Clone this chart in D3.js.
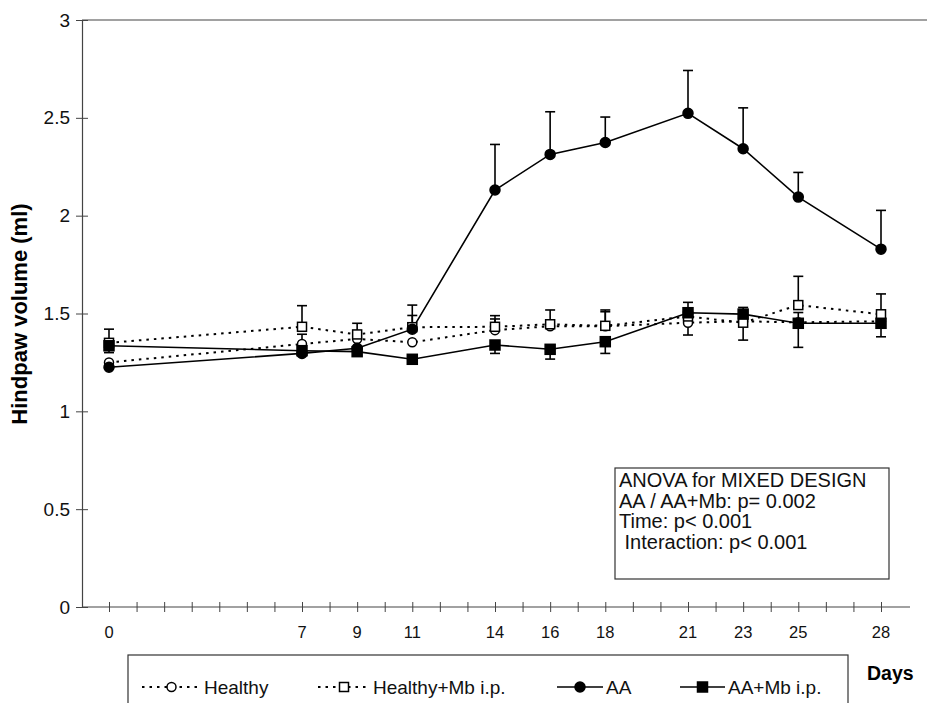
<!DOCTYPE html>
<html><head><meta charset="utf-8">
<script src="https://cdn.jsdelivr.net/npm/d3@7/dist/d3.min.js"></script>
<style>body{margin:0;background:#fff}svg{display:block;font-family:Arial,"Liberation Sans",sans-serif}</style>
</head><body><svg id="c" width="927" height="703"></svg>
<script>
const days = [0, 7, 9, 11, 14, 16, 18, 21, 23, 25, 28];
const yTicks = [0, 0.5, 1, 1.5, 2, 2.5, 3];
const seriesNames = ["Healthy", "Healthy+Mb i.p.", "AA", "AA+Mb i.p."];
const healthy   = [1.25, 1.344, 1.37, 1.353, 1.415, 1.435, 1.435, 1.453, 1.46, 1.455, 1.46];
const healthyMb = [1.35, 1.432, 1.393, 1.43, 1.432, 1.445, 1.437, 1.485, 1.453, 1.543, 1.496];
const aa        = [1.225, 1.296, 1.322, 1.42, 2.131, 2.313, 2.374, 2.523, 2.342, 2.095, 1.829];
const aaMb      = [1.335, 1.31, 1.305, 1.266, 1.339, 1.317, 1.356, 1.504, 1.497, 1.45, 1.45];
const healthyErrUp   = [null, 0.05, null, null, 0.057, null, 0.074, null, null, 0.05, null];
const healthyMbErrUp = [0.07, 0.108, 0.057, 0.06, 0.057, 0.073, 0.081, 0.072, 0.078, 0.147, 0.104];
const aaErrUp        = [null, null, null, 0.123, 0.233, 0.218, 0.13, 0.219, 0.209, 0.126, 0.198];
const aaMbErrDn      = [0.035, 0.02, 0.02, 0.024, 0.043, 0.05, 0.06, 0.114, 0.133, 0.123, 0.069];
const anovaLines = ["ANOVA for MIXED DESIGN", "AA / AA+Mb: p= 0.002", "Time: p< 0.001", " Interaction: p< 0.001"];

const svg = d3.select("#c");
const x = d3.scaleLinear().domain([0, 28]).range([109, 881]);
const y = d3.scaleLinear().domain([0, 3]).range([607, 20]);
const axisCol = "#444";

// frame: top line
svg.append("line").attr("x1", 82).attr("x2", 927).attr("y1", y(3)).attr("y2", y(3)).attr("stroke", axisCol).attr("stroke-width", 1.2);

// y axis
const yAx = svg.append("g").attr("transform", "translate(82,0)")
  .call(d3.axisLeft(y).tickValues(yTicks).tickSize(6).tickFormat(d => d));
yAx.select(".domain").attr("stroke", axisCol).attr("stroke-width", 1.2);
yAx.selectAll(".tick line").attr("stroke", axisCol).attr("x1", 6);
yAx.selectAll(".tick text").attr("font-size", 19).attr("fill", "#111").attr("x", -12).attr("font-family", "Arial, 'Liberation Sans', sans-serif");

// x axis with daily ticks
const xAx = svg.append("g").attr("transform", "translate(0,607)")
  .call(d3.axisBottom(x).tickValues(d3.range(0, 29)).tickSize(5).tickFormat(""));
xAx.select(".domain").attr("d", "M82,0H910").attr("stroke", axisCol).attr("stroke-width", 1.2);
xAx.selectAll(".tick line").attr("stroke", axisCol).attr("y1", -5);
svg.append("g").selectAll("text").data(days).join("text")
  .attr("x", d => x(d)).attr("y", 638).attr("text-anchor", "middle")
  .attr("font-size", 16.5).attr("fill", "#111").text(d => d);

// y title
svg.append("text").attr("transform", "translate(27,314) rotate(-90)")
  .attr("text-anchor", "middle").attr("font-size", 22).attr("font-weight", "bold").text("Hindpaw volume (ml)");

// Days label
svg.append("text").attr("x", 867).attr("y", 680).attr("font-size", 19.5).attr("font-weight", "bold").text("Days");

const series = [
  {vals: healthy, dash: true, mk: "circle", fill: "#fff", up: healthyErrUp},
  {vals: healthyMb, dash: true, mk: "square", fill: "#fff", up: healthyMbErrUp},
  {vals: aa, dash: false, mk: "circle", fill: "#000", up: aaErrUp},
  {vals: aaMb, dash: false, mk: "square", fill: "#000", dn: aaMbErrDn}
];

// error bars
const eb = svg.append("g").attr("stroke", "#000").attr("stroke-width", 1.6);
series.forEach(s => {
  days.forEach((d, i) => {
    const v = s.vals[i];
    [[s.up, 1], [s.dn, -1]].forEach(([arr, sg]) => {
      if (!arr || arr[i] == null) return;
      const e = v + sg * arr[i];
      eb.append("line").attr("x1", x(d)).attr("x2", x(d)).attr("y1", y(v)).attr("y2", y(e));
      eb.append("line").attr("x1", x(d) - 5).attr("x2", x(d) + 5).attr("y1", y(e)).attr("y2", y(e));
    });
  });
});

// lines
const line = d3.line().x((v, i) => x(days[i])).y(v => y(v));
series.forEach(s => {
  svg.append("path").attr("d", line(s.vals)).attr("fill", "none").attr("stroke", "#000")
    .attr("stroke-width", s.dash ? 2 : 1.6).attr("stroke-dasharray", s.dash ? "2.5,5" : null);
});

function marker(g, s, cx, cy) {
  if (s.mk === "circle") {
    g.append("circle").attr("cx", cx).attr("cy", cy).attr("r", s.fill === "#000" ? 5 : 4.5)
      .attr("fill", s.fill).attr("stroke", "#000").attr("stroke-width", 1.5);
  } else {
    const h = s.fill === "#000" ? 5 : 4.5;
    g.append("rect").attr("x", cx - h).attr("y", cy - h).attr("width", 2 * h).attr("height", 2 * h)
      .attr("fill", s.fill).attr("stroke", "#000").attr("stroke-width", 1.5);
  }
}
series.forEach(s => {
  const g = svg.append("g");
  s.vals.forEach((v, i) => marker(g, s, x(days[i]), y(v)));
});

// ANOVA box
svg.append("rect").attr("x", 615).attr("y", 468).attr("width", 274).attr("height", 111)
  .attr("fill", "#fff").attr("stroke", "#333").attr("stroke-width", 1.2);
svg.append("g").selectAll("text").data(anovaLines).join("text")
  .attr("x", 619).attr("y", (d, i) => 487 + i * 20.7).attr("font-size", 20)
  .attr("xml:space", "preserve").style("white-space", "pre").attr("fill", "#111").text(d => d);

// legend
svg.append("rect").attr("x", 128).attr("y", 655).attr("width", 720).attr("height", 70)
  .attr("fill", "none").attr("stroke", "#333").attr("stroke-width", 1.2);
const legX = [142, 318, 557, 680];
const legTextX = [204, 373, 606, 728];
series.forEach((s, i) => {
  const g = svg.append("g");
  const x0 = legX[i], x1 = legTextX[i] - 3, cy = 687;
  g.append("line").attr("x1", x0).attr("x2", x1).attr("y1", cy).attr("y2", cy).attr("stroke", "#000")
    .attr("stroke-width", s.dash ? 2 : 1.6).attr("stroke-dasharray", s.dash ? "2.5,5" : null);
  marker(g, s, (x0 + x1) / 2, cy);
  g.append("text").attr("x", legTextX[i]).attr("y", cy + 7).attr("font-size", 19).attr("fill", "#111").text(seriesNames[i]);
});
</script></body></html>
